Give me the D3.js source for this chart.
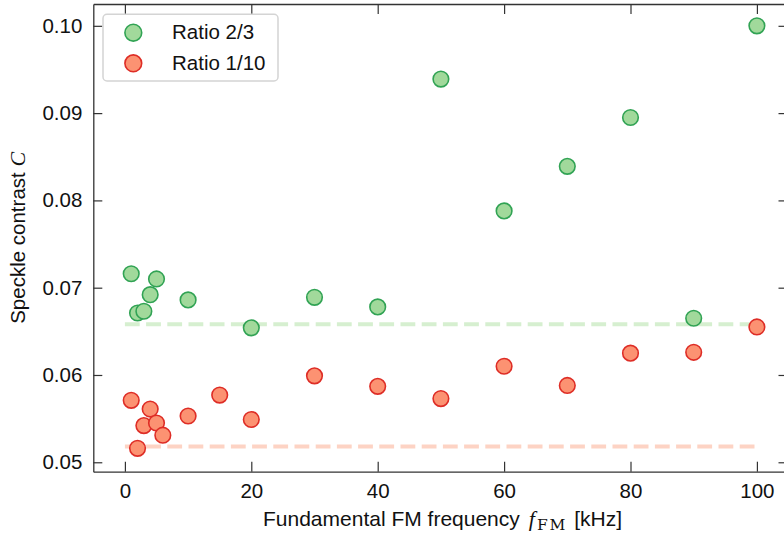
<!DOCTYPE html>
<html>
<head>
<meta charset="utf-8">
<script src="https://cdn.jsdelivr.net/npm/d3@7"></script>
<style>
  body { margin: 0; background: #fff; }
  svg { display: block; font-family: "Liberation Sans", Arial, sans-serif; }
</style>
</head>
<body>
<svg id="chart"></svg>
<script>
// data
const freqGreen = [1, 2, 3, 4, 5, 10, 20, 30, 40, 50, 60, 70, 80, 90, 100];
const ratio23 = [0.0716, 0.0671, 0.0673, 0.0692, 0.0710, 0.0686, 0.0654, 0.0689, 0.0678, 0.0939, 0.0788, 0.0839, 0.0895, 0.0665, 0.1000];
const freqRed = [1, 2, 3, 4, 5, 6, 10, 15, 20, 30, 40, 50, 60, 70, 80, 90, 100];
const ratio110 = [0.0571, 0.0516, 0.0542, 0.0561, 0.0545, 0.0531, 0.0553, 0.0577, 0.0549, 0.0599, 0.0587, 0.0573, 0.0610, 0.0588, 0.0625, 0.0626, 0.0655];
const refX = [0, 100];
const refGreen = 0.0658;
const refRed = 0.0518;
const xTicks = [0, 20, 40, 60, 80, 100];
const yTicks = [0.05, 0.06, 0.07, 0.08, 0.09, 0.10];
const legendLabels = ["Ratio 2/3", "Ratio 1/10"];

const W = 784, H = 538;
const svg = d3.select("#chart").attr("width", W).attr("height", H);

const plotLeft = 93.3, plotRight = 788.5, plotTop = 4, plotBottom = 471.7;
const x = d3.scaleLinear().domain([-5, 105]).range([plotLeft, plotRight]);
const y = d3.scaleLinear().domain([0.04892, 0.1025]).range([plotBottom, plotTop]);

const axisColor = "#333";
const fs = 20.5;

// reference dashed lines
const line = d3.line().x(d => x(d[0])).y(d => y(d[1]));
[[refGreen, "#d6efd0"], [refRed, "#fdd3c4"]].forEach(([v, c]) => {
  svg.append("path")
    .attr("d", line(refX.map(f => [f, v])))
    .attr("fill", "none")
    .attr("stroke", c)
    .attr("stroke-width", 4)
    .attr("stroke-dasharray", "14.8,6.4");
});

// points
const series = [
  { xs: freqGreen, ys: ratio23, fill: "#a1d99b", stroke: "#31a354" },
  { xs: freqRed, ys: ratio110, fill: "#fc9272", stroke: "#de2d26" }
];
series.forEach(s => {
  svg.append("g").selectAll("circle").data(s.xs).join("circle")
    .attr("cx", d => x(d))
    .attr("cy", (d, i) => y(s.ys[i]))
    .attr("r", 7.8)
    .attr("fill", s.fill)
    .attr("stroke", s.stroke)
    .attr("stroke-width", 1.6);
});

// axes, ticks pointing in on all four sides
function styleAxis(g) {
  g.select(".domain").attr("stroke", axisColor).attr("stroke-width", 1.3);
  g.selectAll(".tick line").attr("stroke", axisColor).attr("stroke-width", 1.2);
  g.selectAll(".tick text").attr("fill", "#111").attr("font-size", fs);
}
const fmtY = d3.format(".2f");
svg.append("g").attr("transform", `translate(0,${plotBottom})`)
  .call(d3.axisBottom(x).tickValues(xTicks).tickSize(-10).tickPadding(12).tickSizeOuter(0))
  .call(styleAxis);
svg.append("g").attr("transform", `translate(0,${plotTop})`)
  .call(d3.axisTop(x).tickValues(xTicks).tickSize(-10).tickFormat("").tickSizeOuter(0))
  .call(styleAxis);
svg.append("g").attr("transform", `translate(${plotLeft},0)`)
  .call(d3.axisLeft(y).tickValues(yTicks).tickSize(-9).tickPadding(11).tickFormat(fmtY).tickSizeOuter(0))
  .call(styleAxis);
svg.append("g").attr("transform", `translate(${plotRight},0)`)
  .call(d3.axisRight(y).tickValues(yTicks).tickSize(-10).tickFormat("").tickSizeOuter(0))
  .call(styleAxis);
svg.selectAll(".domain").attr("fill", "none");

// axis titles
const xt = svg.append("text")
  .attr("x", 263).attr("y", 526)
  .attr("font-size", 21).attr("fill", "#111");
xt.append("tspan").text("Fundamental FM frequency");
xt.append("tspan").attr("dx", 9).attr("font-family", "'Liberation Serif', serif").attr("font-style", "italic").attr("font-size", 22).text("f");
xt.append("tspan").attr("font-family", "'DejaVu Serif', serif").attr("font-size", 15.5).attr("letter-spacing", 1.8).attr("dx", 2).attr("dy", 4).text("FM");
xt.append("tspan").attr("dy", -4).attr("dx", 7).text("[kHz]");

const yt = svg.append("text")
  .attr("transform", `translate(25,${(plotTop + plotBottom) / 2}) rotate(-90)`)
  .attr("text-anchor", "middle")
  .attr("font-size", fs).attr("fill", "#111");
yt.append("tspan").text("Speckle contrast ");
yt.append("tspan").attr("font-family", "'Liberation Serif', serif").attr("font-style", "italic").attr("font-size", 22).text("C");

// legend
const lg = svg.append("g");
lg.append("rect")
  .attr("x", 103).attr("y", 14.3).attr("width", 175).attr("height", 66.7)
  .attr("rx", 4).attr("fill", "#fff").attr("fill-opacity", 0.85)
  .attr("stroke", "#d4d4d4").attr("stroke-width", 1.5);
legendLabels.forEach((lab, i) => {
  const cy = 32.7 + i * 30.6;
  lg.append("circle").attr("cx", 133.3).attr("cy", cy).attr("r", 8.4)
    .attr("fill", series[i].fill).attr("stroke", series[i].stroke).attr("stroke-width", 1.6);
  lg.append("text").attr("x", 172).attr("y", cy + 6.6)
    .attr("font-size", fs).attr("fill", "#111").text(lab);
});
</script>
</body>
</html>
